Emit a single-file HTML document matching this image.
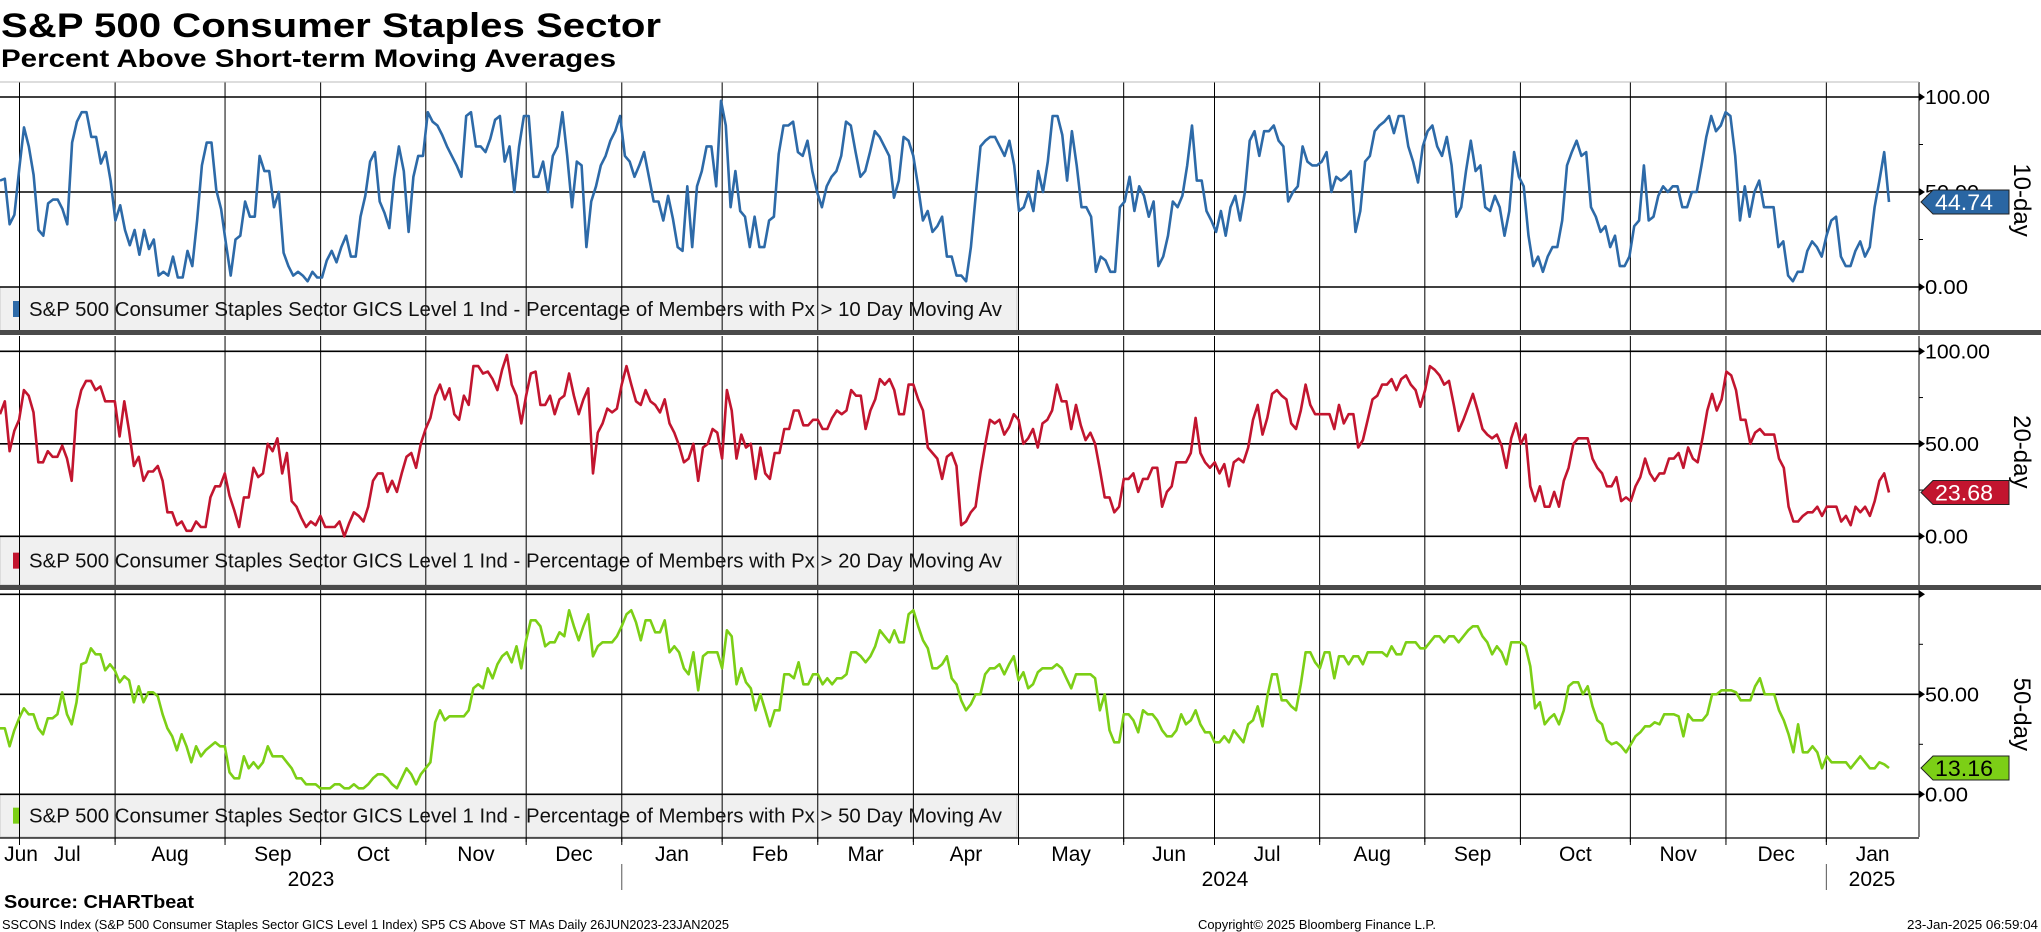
<!DOCTYPE html>
<html><head><meta charset="utf-8">
<style>
html,body{margin:0;padding:0;background:#fff;}
svg{display:block;font-family:"Liberation Sans",sans-serif;}
</style></head>
<body>
<svg id="chart" width="2041" height="932" viewBox="0 0 2041 932" xmlns="http://www.w3.org/2000/svg">
  <rect x="0" y="0" width="2041" height="932" fill="#fff"/>
  <text x="1" y="37" font-size="34" font-weight="bold" textLength="660" lengthAdjust="spacingAndGlyphs">S&amp;P 500 Consumer Staples Sector</text>
  <text x="1" y="67" font-size="25" font-weight="bold" textLength="615" lengthAdjust="spacingAndGlyphs">Percent Above Short-term Moving Averages</text>
  <g id="layer"></g>
  <text x="4" y="908" font-size="18" font-weight="bold" textLength="190" lengthAdjust="spacingAndGlyphs">Source: CHARTbeat</text>
  <text x="2" y="929" font-size="13" textLength="727" lengthAdjust="spacingAndGlyphs">SSCONS Index (S&amp;P 500 Consumer Staples Sector GICS Level 1 Index) SP5 CS Above ST MAs  Daily 26JUN2023-23JAN2025</text>
  <text x="1198" y="929" font-size="13" textLength="238" lengthAdjust="spacingAndGlyphs">Copyright© 2025 Bloomberg Finance L.P.</text>
  <text x="1907" y="929" font-size="13" textLength="131" lengthAdjust="spacingAndGlyphs">23-Jan-2025 06:59:04</text>
</svg>
<script>
const val10 = [56,57,33,38,62,84,74,59,30,27,44,46,46,41,33,76,87,92,92,79,79,65,71,56,35,43,30,22,30,17,30,20,25,6,8,6,16,5,5,19,11,35,64,76,76,51,41,23,6,25,27,45,37,37,69,61,61,42,50,18,11,6,8,6,3,8,5,5,14,19,13,21,27,16,16,37,48,66,71,45,39,31,57,74,61,29,58,69,69,92,87,85,80,74,69,64,58,90,92,74,74,71,78,88,90,66,74,50,74,90,90,58,58,66,50,69,74,92,69,42,66,64,21,45,53,64,69,77,82,90,69,66,58,64,71,58,45,45,35,48,36,21,19,53,21,53,61,74,74,53,98,85,42,61,40,37,21,37,21,21,35,37,70,85,85,87,71,69,77,61,50,42,53,58,61,69,87,85,71,58,61,71,82,79,74,69,47,56,79,77,69,53,35,40,29,32,37,16,16,6,6,3,21,48,74,77,79,79,74,69,77,64,
40,42,50,40,61,50,66,90,90,80,56,82,64,42,42,37,8,16,14,8,8,42,45,58,40,53,48,37,45,11,16,27,45,42,48,64,85,56,56,40,35,29,40,27,42,48,35,50,77,82,69,82,82,85,77,74,45,50,53,74,66,64,64,66,71,50,58,56,58,61,29,40,66,69,82,85,87,90,81,90,90,74,66,55,74,82,85,74,69,79,64,37,42,61,77,61,64,42,40,48,42,27,40,71,58,53,27,11,16,8,16,21,21,35,64,71,77,69,71,42,37,29,32,21,27,11,11,16,32,35,64,35,37,48,53,50,53,53,42,42,50,50,64,79,90,82,85,92,90,69,35,53,37,50,56,42,42,42,21,24,6,3,8,8,19,24,21,16,27,35,37,16,11,11,19,24,16,21,42,56,71,44.74];
const val20 = [66,73,46,57,63,79,76,67,40,40,46,43,43,49,42,30,68,79,84,84,79,81,73,73,73,54,73,57,38,43,30,35,35,38,30,13,13,6,8,3,3,8,5,5,21,27,27,34,22,14,5,21,21,37,32,34,50,46,53,34,45,19,16,10,5,8,6,11,5,5,5,8,0,7,13,11,8,16,30,34,34,24,30,24,34,43,45,37,50,58,64,76,82,74,80,66,63,76,71,92,92,88,89,85,79,90,98,82,76,61,76,88,89,71,71,76,66,74,76,88,76,66,74,80,34,56,61,69,67,69,82,92,82,73,71,79,73,71,67,74,61,56,49,40,42,50,30,48,50,58,56,42,79,68,42,55,48,50,31,48,34,31,45,45,58,58,68,68,60,60,63,63,58,58,64,68,66,68,79,76,76,58,68,74,85,82,85,79,66,66,82,82,74,68,48,45,42,31,43,45,38,6,8,13,16,34,49,63,61,63,55,59,66,63,
50,53,58,48,61,63,68,82,73,73,58,71,60,52,56,50,36,21,21,13,16,31,31,34,24,31,31,37,37,16,24,27,40,40,40,45,64,45,40,37,40,34,39,27,40,42,40,48,63,71,55,64,77,79,76,74,61,58,68,82,71,66,66,66,66,58,71,61,66,66,48,52,63,74,76,82,82,85,79,85,87,82,79,70,79,92,90,87,82,84,71,57,63,70,77,68,58,55,53,55,49,37,53,61,50,55,27,19,27,16,16,24,16,30,37,50,53,53,53,42,37,34,27,27,32,19,21,19,27,32,42,34,30,34,34,42,42,45,37,48,42,40,53,68,77,68,74,89,87,79,63,63,50,56,58,55,55,55,42,37,16,8,8,11,13,13,16,11,16,16,16,8,11,6,16,13,16,11,19,30,34,23.68];
const val50 = [33,33,24,32,38,43,40,40,33,30,38,38,40,51,40,35,46,65,66,73,70,70,62,65,62,56,59,57,46,54,46,51,51,49,40,33,29,22,30,24,16,24,19,22,24,26,24,24,11,8,8,19,13,16,13,16,24,19,19,19,16,13,8,8,5,5,5,3,3,3,5,5,3,3,5,3,3,5,8,10,10,8,5,3,8,13,10,5,10,13,16,36,42,37,39,39,39,39,42,53,55,53,63,58,65,69,71,66,74,63,77,87,87,84,74,76,76,81,79,92,84,77,84,90,69,74,76,76,76,79,84,90,92,86,77,87,87,81,81,87,71,74,71,63,60,71,52,69,71,71,71,63,82,79,55,63,56,53,42,50,42,34,42,42,60,60,58,66,55,55,60,60,55,58,55,58,58,60,71,71,69,66,69,74,82,79,76,82,76,76,90,92,84,77,73,63,63,65,69,58,55,47,42,45,50,50,60,63,63,65,60,65,69,57,
61,53,55,61,63,63,63,65,63,58,53,60,60,60,60,58,42,50,32,26,26,40,40,37,31,42,40,40,37,32,29,29,32,40,35,37,42,35,31,31,26,26,29,26,32,29,26,35,37,44,34,49,60,60,47,47,44,42,55,71,71,66,63,71,71,58,69,69,65,69,69,65,71,71,71,71,69,74,70,70,76,76,76,73,73,76,79,79,76,79,79,76,79,82,84,84,79,76,70,74,71,65,76,76,76,74,64,43,46,35,38,40,35,42,54,56,56,50,54,44,37,35,27,25,26,24,21,25,29,31,34,34,36,35,40,40,40,39,29,40,37,37,37,40,50,50,52,52,52,51,47,47,47,54,58,50,50,50,42,37,30,21,35,21,21,24,21,13,19,16,16,16,16,13,16,19,16,13,13,16,15,13.16];
const monthLabels = ["Jun","Jul","Aug","Sep","Oct","Nov","Dec","Jan","Feb","Mar","Apr","May","Jun","Jul","Aug","Sep","Oct","Nov","Dec","Jan"];
const monthTradingDays = [4.5,20,23,20,22,21,20,21,20,20,22,22,19,22,22,20,23,20,21,15];
const yearLabels = ["2023","2024","2025"];
const yTicks = [0,50,100];
const tickLabels = ["0.00","50.00","100.00"];
</script>
<script>
const NS = "http://www.w3.org/2000/svg";
const layer = document.getElementById("layer");
const X0 = 0, XLAST = 1889, XR = 1919, PX_PER_DAY = 4.78, FIRST_LINE = 19.5;
function mk(tag, attrs, parent) {
  const e = document.createElementNS(NS, tag);
  for (const k in attrs) e.setAttribute(k, attrs[k]);
  (parent || layer).appendChild(e);
  return e;
}
function xScale(i, n) { return X0 + i * (XLAST - X0) / (n - 1); }
const panels = [
  {name:"10-day", vals:val10, color:"#2d6aa8", tagFill:"#2a66a3", tagText:"#fff", zero:287, hundred:97, top:82, legendBottom:331, label:"S&P 500 Consumer Staples Sector GICS Level 1 Ind - Percentage of Members with Px > 10 Day Moving Av"},
  {name:"20-day", vals:val20, color:"#c2152f", tagFill:"#c2152f", tagText:"#fff", zero:536.3, hundred:351.3, top:336, legendBottom:585, label:"S&P 500 Consumer Staples Sector GICS Level 1 Ind - Percentage of Members with Px > 20 Day Moving Av"},
  {name:"50-day", vals:val50, color:"#7ccf16", tagFill:"#7ccf16", tagText:"#000", zero:794.3, hundred:594.3, top:590, legendBottom:837, label:"S&P 500 Consumer Staples Sector GICS Level 1 Ind - Percentage of Members with Px > 50 Day Moving Av"}
];
const bounds = [];
{ let acc = 0; for (let m = 0; m < monthTradingDays.length - 1; m++) { acc += monthTradingDays[m]; bounds.push(FIRST_LINE + (acc - 4.5) * PX_PER_DAY); } }

panels.forEach((p, pi) => {
  const y = v => p.zero - v * (p.zero - p.hundred) / 100;
  const lg = mk("rect", {x:0, y:p.zero, width:1017, height:p.legendBottom - p.zero, fill:"#f0f0f0", stroke:"#c8c8c8", "stroke-width":1});
  
  
  bounds.forEach((bx, k) => {
    const l = mk("line", {x1:bx, x2:bx, y1:p.top, y2:p.legendBottom + (pi === 2 ? 5 : 0), stroke:"#000", "stroke-width":1});
    
    
  });
  [0,50,100].forEach(v => {
    const h = mk("line", {x1:0, x2:XR, y1:y(v), y2:y(v), stroke:"#000", "stroke-width":1.6});
    
    
  });
  const ax = mk("line", {x1:XR, x2:XR, y1:p.top, y2:p.legendBottom, stroke:"#000", "stroke-width":1});
  
  
  [25,75].forEach(v => {
    const t = mk("line", {x1:XR, x2:XR + 4, y1:y(v), y2:y(v), stroke:"#000", "stroke-width":1});
    
    
  });
  yTicks.forEach((v, k) => {
    const ar = mk("path", {d:`M${XR} ${y(v)-4} L${XR+6} ${y(v)} L${XR} ${y(v)+4} Z`, fill:"#000"});
    
    
    if (pi === 2 && v === 100) return;
    const t = mk("text", {x:XR + 6, y:y(v) + 7, "font-size":20, textLength:(tickLabels[k].length * 10.8).toFixed(0), lengthAdjust:"spacingAndGlyphs", fill:"#000"});
    t.textContent = tickLabels[k];
    
    
  });
  const n = p.vals.length;
  let d = "";
  p.vals.forEach((v, i) => { d += (i ? "L" : "M") + xScale(i, n).toFixed(1) + " " + y(v).toFixed(1); });
  const path = mk("path", {d:d, fill:"none", stroke:p.color, "stroke-width":2.6, "stroke-linejoin":"round"});
  
  
  const sq = mk("rect", {x:13, y:(p.zero + p.legendBottom)/2 - 8, width:6, height:16, fill:p.color});
  
  
  const lt = mk("text", {x:29, y:(p.zero + p.legendBottom)/2 + 7, "font-size":20, textLength:973, lengthAdjust:"spacingAndGlyphs", fill:"#111"});
  lt.textContent = p.label;
  
  
  const last = p.vals[n - 1], ty = y(last);
  const tag = mk("path", {d:`M1921 ${ty} L1933 ${ty-12} L2009 ${ty-12} L2009 ${ty+12} L1933 ${ty+12} Z`, fill:p.tagFill, stroke:"#222", "stroke-width":1});
  
  
  const tt = mk("text", {x:1935, y:ty + 8, "font-size":22, textLength:58, lengthAdjust:"spacingAndGlyphs", fill:p.tagText});
  tt.textContent = last.toFixed(2);
  
  
  const cy = (p.hundred + p.zero) / 2 + (pi === 2 ? 20 : 8);
  const at = mk("text", {x:0, y:0, "font-size":24, "text-anchor":"middle", transform:`translate(2014 ${cy}) rotate(90)`, fill:"#000"});
  at.textContent = p.name;
  
  
});
[[330,5],[585,5]].forEach(s => {
  const r = mk("rect", {x:0, y:s[0], width:2041, height:s[1], fill:"#4a4a4a"});
  
  
});
const topB = mk("line", {x1:0, x2:XR, y1:82, y2:82, stroke:"#bbb", "stroke-width":1});


const bot = mk("line", {x1:0, x2:XR, y1:838, y2:838, stroke:"#000", "stroke-width":1.2});


bounds.forEach(bx => {
  const t = mk("line", {x1:bx, x2:bx, y1:838, y2:845, stroke:"#000", "stroke-width":1});
  
  
});
const edges = [0].concat(bounds).concat([XR]);
monthLabels.forEach((m, k) => {
  let cx = (edges[k] + edges[k+1]) / 2;
  if (k === 0) cx = 21;
  const t = mk("text", {x:cx, y:861, "font-size":21, "text-anchor":"middle", fill:"#000"});
  t.textContent = m;
  
  
});
const yearX = [311, 1225, 1872];
yearLabels.forEach((yl, k) => {
  const t = mk("text", {x:yearX[k], y:886, "font-size":21, "text-anchor":"middle", fill:"#000"});
  t.textContent = yl;
  
  
});
[bounds[6], bounds[18]].forEach(bx => {
  const l = mk("line", {x1:bx, x2:bx, y1:864, y2:890, stroke:"#555", "stroke-width":1});
  
  
});
</script>
</body></html>
